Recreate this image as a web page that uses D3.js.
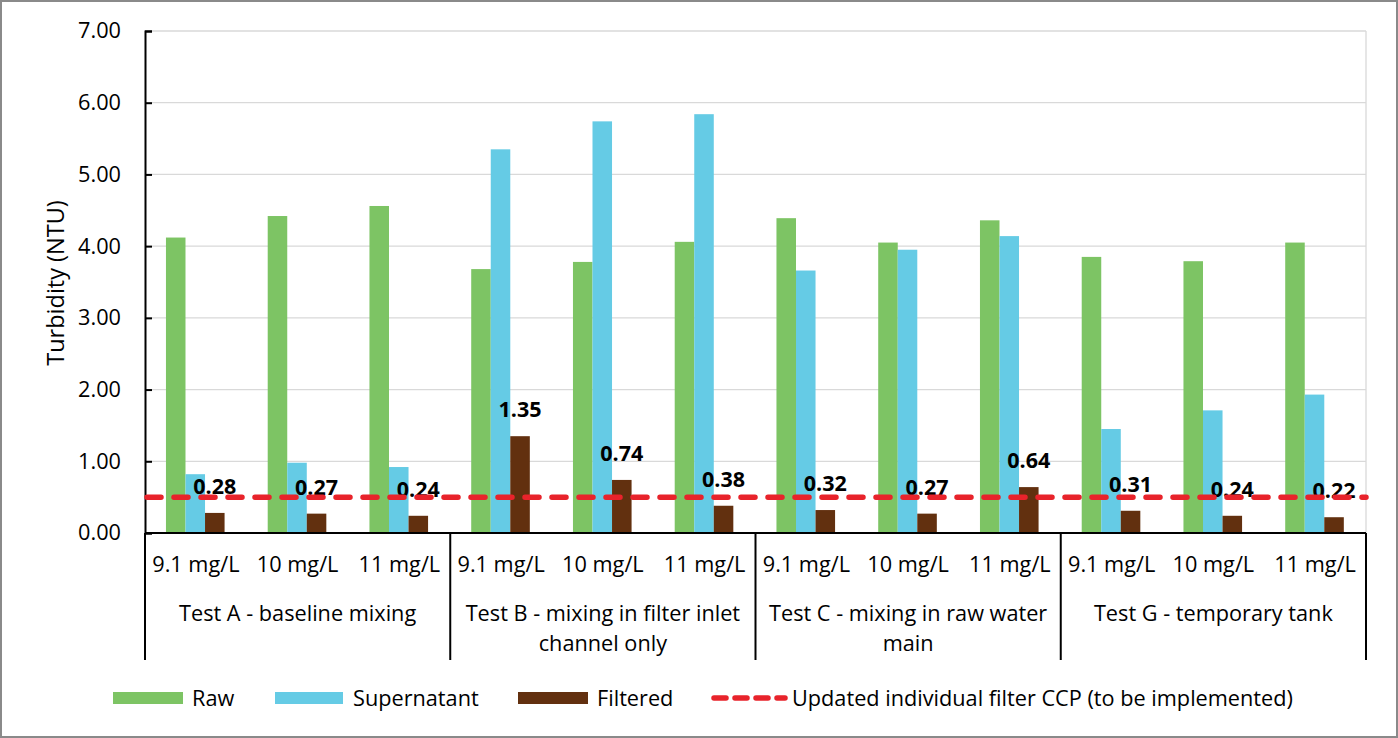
<!DOCTYPE html>
<html>
<head>
<meta charset="utf-8">
<script src="https://cdn.jsdelivr.net/npm/d3@7"></script>
<style>
  html, body { margin: 0; padding: 0; background: #fff; }
  svg { display: block; font-family: "Open Sans", Lato, sans-serif; }
</style>
</head>
<body>
<svg id="chart" width="1398" height="738"></svg>
<script>
// ---- data ----
const doses = ["9.1 mg/L", "10 mg/L", "11 mg/L"];
const groups = [
  ["Test A - baseline mixing"],
  ["Test B - mixing in filter inlet", "channel only"],
  ["Test C - mixing in raw water", "main"],
  ["Test G - temporary tank"]
];
const seriesNames = ["Raw", "Supernatant", "Filtered"];
const raw         = [4.12, 4.42, 4.56, 3.68, 3.78, 4.06, 4.39, 4.05, 4.36, 3.85, 3.79, 4.05];
const supernatant = [0.82, 0.98, 0.92, 5.35, 5.74, 5.84, 3.66, 3.95, 4.14, 1.45, 1.71, 1.93];
const filtered    = [0.28, 0.27, 0.24, 1.35, 0.74, 0.38, 0.32, 0.27, 0.64, 0.31, 0.24, 0.22];
const ccpValue = 0.5;
const ccpName = "Updated individual filter CCP (to be implemented)";
const yTicks = [0, 1, 2, 3, 4, 5, 6, 7];

const colors = { Raw: "#7dc464", Supernatant: "#65cbe5", Filtered: "#62300f" };
const ccpColor = "#e8232b";
const FONT = "'Open Sans', Lato, sans-serif";
const FS = 21.7;

// ---- layout ----
const svg = d3.select("#chart");
const W = 1398, H = 738;
const pLeft = 145, pRight = 1366, pTop = 31, pBottom = 533;
const catBottom = 660;

svg.append("rect").attr("x", 1).attr("y", 1).attr("width", W - 2).attr("height", H - 2)
  .attr("fill", "#fff").attr("stroke", "#8a8a8a").attr("stroke-width", 2);

const nCats = groups.length * doses.length;
const idx = d3.range(nCats);
const x0 = d3.scaleBand().domain(idx).range([pLeft, pRight]).padding(0);
const bw = x0.bandwidth();
const x1 = d3.scaleBand().domain(seriesNames).range([bw * 0.206, bw * 0.206 + 3 * bw * 0.192]).padding(0);
const y = d3.scaleLinear().domain([0, 7]).range([pBottom, pTop]);

// gridlines
svg.append("g").selectAll("line").data(yTicks.filter(d => d > 0)).join("line")
  .attr("x1", pLeft).attr("x2", pRight)
  .attr("y1", d => y(d)).attr("y2", d => y(d))
  .attr("stroke", "#d9d9d9").attr("stroke-width", 1.3);
svg.append("line").attr("x1", pRight).attr("x2", pRight).attr("y1", pTop).attr("y2", pBottom)
  .attr("stroke", "#d9d9d9").attr("stroke-width", 1.3);

// y axis
const yAxis = d3.axisLeft(y).tickValues(yTicks).tickFormat(d3.format(".2f")).tickSize(-7).tickPadding(24);
const yg = svg.append("g").attr("transform", `translate(${pLeft},0)`).call(yAxis);
yg.select(".domain").attr("stroke", "#000").attr("stroke-width", 2);
yg.selectAll(".tick line").attr("stroke", "#000").attr("stroke-width", 2);
yg.selectAll(".tick text").attr("font-size", FS).attr("fill", "#000")
  .attr("font-family", FONT);

svg.append("text")
  .attr("transform", `translate(64,283) rotate(-90)`)
  .attr("text-anchor", "middle").attr("font-size", 23.5).attr("fill", "#000")
  .text("Turbidity (NTU)");

// bars
const seriesData = { Raw: raw, Supernatant: supernatant, Filtered: filtered };
const barsG = svg.append("g");
seriesNames.forEach(s => {
  barsG.append("g").selectAll("rect").data(seriesData[s]).join("rect")
    .attr("x", (d, i) => x0(i) + x1(s))
    .attr("width", x1.bandwidth())
    .attr("y", d => y(d))
    .attr("height", d => y(0) - y(d))
    .attr("fill", colors[s]);
});

// data labels for filtered
svg.append("g").selectAll("text").data(filtered).join("text")
  .attr("x", (d, i) => x0(i) + x1("Filtered") + x1.bandwidth() / 2)
  .attr("y", d => y(d) - 19)
  .attr("text-anchor", "middle")
  .attr("font-size", 21.5).attr("font-weight", "bold").attr("fill", "#000")
  .text(d => d3.format(".2f")(d));

// CCP line
svg.append("line")
  .attr("x1", pLeft + 2).attr("x2", pRight)
  .attr("y1", y(ccpValue)).attr("y2", y(ccpValue))
  .attr("stroke", ccpColor).attr("stroke-width", 5.5)
  .attr("stroke-dasharray", "14,13").attr("stroke-linecap", "round");

// x axis baseline
svg.append("line").attr("x1", pLeft).attr("x2", pRight).attr("y1", pBottom).attr("y2", pBottom)
  .attr("stroke", "#000").attr("stroke-width", 2);

// category axis
const groupW = bw * doses.length;
const sepG = svg.append("g");
d3.range(groups.length + 1).forEach(g => {
  const gx = pLeft + g * groupW;
  sepG.append("line").attr("x1", gx).attr("x2", gx).attr("y1", pBottom).attr("y2", catBottom)
    .attr("stroke", "#000").attr("stroke-width", 2);
});
svg.append("g").selectAll("text").data(idx).join("text")
  .attr("x", i => x0(i) + bw / 2)
  .attr("y", 572)
  .attr("text-anchor", "middle").attr("font-size", FS).attr("fill", "#000")
  .text(i => doses[i % doses.length]);
groups.forEach((lines, g) => {
  const cx = pLeft + g * groupW + groupW / 2;
  lines.forEach((ln, k) => {
    svg.append("text").attr("x", cx).attr("y", 621 + k * 30)
      .attr("text-anchor", "middle").attr("font-size", FS).attr("fill", "#000")
      .text(ln);
  });
});

// legend
const legY = 698;
const legend = svg.append("g");
const legItems = [
  { name: "Raw", x: 113, w: 70, tx: 192 },
  { name: "Supernatant", x: 275, w: 68, tx: 353 },
  { name: "Filtered", x: 518, w: 70, tx: 597 }
];
legItems.forEach(it => {
  legend.append("rect").attr("x", it.x).attr("y", legY - 6).attr("width", it.w).attr("height", 12)
    .attr("fill", colors[it.name]);
  legend.append("text").attr("x", it.tx).attr("y", legY).attr("dy", "0.35em")
    .attr("font-size", FS).attr("fill", "#000").text(it.name);
});
legend.append("line").attr("x1", 714).attr("x2", 785).attr("y1", legY).attr("y2", legY)
  .attr("stroke", ccpColor).attr("stroke-width", 5.5)
  .attr("stroke-dasharray", "12,9").attr("stroke-linecap", "round");
legend.append("text").attr("x", 792).attr("y", legY).attr("dy", "0.35em")
  .attr("font-size", FS).attr("fill", "#000").text(ccpName);
</script>
</body>
</html>
